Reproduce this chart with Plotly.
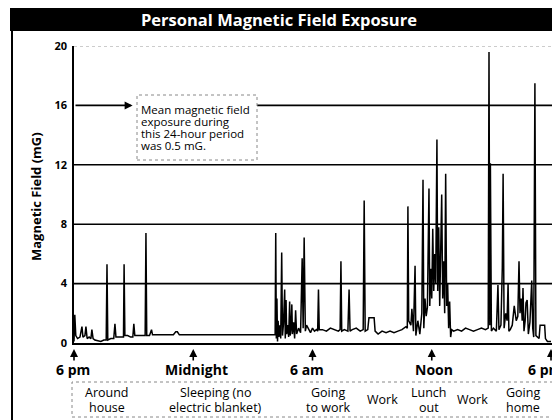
import plotly.graph_objects as go

# ---------------- data ----------------
# hours after 6 pm, and magnetic field in mG
time_h = [
    0.00, 0.04, 0.09, 0.18, 0.30, 0.40, 0.45, 0.55, 0.60, 0.66, 0.76, 0.85, 0.90, 0.96,
    1.05, 1.20, 1.35, 1.50, 1.62, 1.66, 1.70, 1.85, 2.00, 2.06, 2.11, 2.25, 2.40, 2.49,
    2.52, 2.56, 2.70, 2.85, 2.96, 3.01, 3.06, 3.20, 3.40, 3.58, 3.62, 3.66, 3.80, 3.90,
    3.95, 4.50, 5.00, 5.12, 5.20, 5.30, 6.50, 7.50, 8.50, 9.50, 10.12,
    10.15, 10.18, 10.21, 10.24, 10.27, 10.31, 10.35, 10.40, 10.45, 10.49, 10.54, 10.60,
    10.63, 10.67, 10.70, 10.75, 10.80, 10.85, 10.88, 10.92, 10.96, 10.99, 11.05, 11.10,
    11.15, 11.20, 11.30, 11.40, 11.48, 11.53, 11.58, 11.64, 11.70, 11.80, 11.90, 12.00,
    12.10, 12.20, 12.26, 12.30, 12.34, 12.50, 12.70, 12.90, 13.10, 13.30, 13.39, 13.43,
    13.47, 13.60, 13.78, 13.84, 13.89, 14.00, 14.20, 14.40, 14.55, 14.60, 14.65, 14.78,
    14.84, 15.10, 15.15, 15.30, 15.50, 15.70, 15.90, 16.10, 16.30, 16.50, 16.70, 16.77,
    16.80, 16.84, 16.95, 17.00, 17.08, 17.16, 17.20, 17.30, 17.40, 17.50, 17.56, 17.60,
    17.66, 17.72, 17.78, 17.86, 17.90, 17.95, 18.00, 18.05, 18.10, 18.15, 18.20, 18.26,
    18.30, 18.35, 18.40, 18.45, 18.50, 18.55, 18.60, 18.65, 18.70, 18.75, 18.80, 18.85,
    18.90, 18.95, 19.00, 19.10, 19.30, 19.50, 19.70, 19.90, 20.10, 20.30, 20.50, 20.70,
    20.84, 20.88, 20.92, 20.95, 21.00, 21.10, 21.25, 21.33, 21.38, 21.48, 21.55, 21.59,
    21.64, 21.72, 21.79, 21.84, 21.88, 21.95, 22.05, 22.15, 22.25, 22.33, 22.39, 22.44,
    22.50, 22.55, 22.59, 22.64, 22.70, 22.74, 22.80, 22.86, 22.94, 23.03, 23.08, 23.13,
    23.19, 23.24, 23.30, 23.40, 23.45, 23.68, 23.72, 23.82, 23.92, 24.00,
]
field_mG = [
    0.1, 1.9, 0.5, 0.3, 0.4, 1.1, 0.4, 0.5, 1.1, 0.3, 0.4, 0.3, 0.9, 0.3,
    0.2, 0.15, 0.1, 0.2, 0.2, 5.3, 0.2, 0.3, 0.3, 1.3, 0.4, 0.4, 0.4, 0.4,
    5.3, 0.5, 0.5, 0.4, 0.4, 1.3, 0.5, 0.5, 0.5, 0.5, 7.4, 0.5, 0.5, 0.9,
    0.55, 0.55, 0.55, 0.75, 0.75, 0.55, 0.55, 0.55, 0.55, 0.55, 0.55,
    7.4, 0.3, 3.0, 0.1, 1.5, 0.4, 1.2, 0.3, 6.1, 0.5, 1.3, 3.6,
    0.3, 2.9, 0.6, 1.2, 0.4, 2.8, 0.5, 1.0, 2.6, 0.6, 1.4, 0.3,
    2.2, 0.6, 1.0, 0.7, 5.7, 1.0, 7.1, 0.8, 1.2, 0.9, 0.7, 1.0,
    0.8, 0.9, 0.8, 3.6, 0.9, 0.9, 0.8, 1.0, 0.9, 0.8, 0.9, 5.5,
    0.8, 0.9, 0.8, 3.6, 0.8, 0.9, 1.0, 0.8, 0.9, 9.6, 0.8, 0.9,
    1.7, 1.7, 0.8, 0.6, 0.8, 0.7, 0.8, 0.7, 0.8, 0.9, 1.1, 1.0,
    9.2, 1.5, 1.2, 2.3, 0.8, 5.2, 0.5, 1.5, 0.6, 2.0, 11.0, 1.0,
    3.0, 1.8, 2.4, 10.4, 2.5, 5.0, 3.0, 7.7, 3.5, 6.0, 4.0, 13.7,
    3.5, 7.8, 2.5, 6.0, 10.0, 3.0, 5.5, 2.0, 11.4, 2.5, 4.0, 1.0,
    2.8, 0.4, 0.9, 0.8, 0.9, 0.8, 1.0, 0.9, 0.8, 0.9, 1.0, 0.9,
    1.0, 19.6, 1.2, 12.1, 0.8, 1.0, 0.8, 3.9, 0.9, 1.2, 5.1, 11.4,
    1.0, 2.0, 1.5, 4.0, 0.8, 0.9, 1.2, 2.5, 1.5, 1.8, 5.5, 2.0,
    3.0, 1.5, 3.7, 0.8, 1.5, 2.7, 2.9, 0.6, 1.4, 4.2, 1.0, 0.4,
    17.5, 0.5, 0.4, 0.3, 1.2, 1.2, 0.3, 0.1, 0.1, 0.1,
]

y_ticks = [0, 4, 8, 12, 16, 20]
grid_levels = [4, 8, 12]
time_marks = [0, 6, 12, 18, 24]
time_labels = ["6 pm", "Midnight", "6 am", "Noon", "6 pm"]
mean_note = ["Mean magnetic field", "exposure during", "this 24-hour period", "was 0.5 mG."]
activities = [["Around", "house"], ["Sleeping (no", "electric blanket)"], ["Going", "to work"],
              ["Work"], ["Lunch", "out"], ["Work"], ["Going", "home"]]
title_text = "Personal Magnetic Field Exposure"

# ---------------- layout geometry (pixels, reference coordinates) ----------------
# the page body adds an 8 px offset, so the figure is made 8 px smaller
OFF = 8
PLOT_L, PLOT_T, PLOT_R, PLOT_B = 74, 46, 553, 343
PW, PH = PLOT_R - PLOT_L, PLOT_B - PLOT_T
L, T = PLOT_L - OFF, PLOT_T - OFF
R, B = 560 - PLOT_R, 420 - PLOT_B
WIDTH, HEIGHT = L + PW + R, T + PH + B
XMAX = 24.1
FONT = "Open Sans"


def px_x(p):
    return (p - PLOT_L) / PW


def px_y(p):
    return (PLOT_B - p) / PH


fig = go.Figure()
fig.add_trace(go.Scatter(x=time_h, y=field_mG, mode="lines",
                         line=dict(color="black", width=1.5), hoverinfo="skip",
                         showlegend=False))

shapes = []
for g in grid_levels:
    shapes.append(dict(type="line", xref="x", yref="y", x0=0, x1=XMAX, y0=g, y1=g,
                       line=dict(color="black", width=1.6), layer="below"))
# 16 line broken by the note box
shapes.append(dict(type="line", xref="x", yref="y", x0=9.21, x1=XMAX, y0=16, y1=16,
                   line=dict(color="black", width=1.6), layer="below"))
# faint top line at 20
shapes.append(dict(type="line", xref="x", yref="y", x0=0, x1=XMAX, y0=20, y1=20,
                   line=dict(color="#999999", width=1, dash="dot"), layer="below"))
# note box
shapes.append(dict(type="rect", xref="paper", yref="paper",
                   x0=px_x(137), x1=px_x(257), y0=px_y(160), y1=px_y(95),
                   line=dict(color="#888888", width=1, dash="dot")))
# title banner
shapes.append(dict(type="rect", xref="paper", yref="paper",
                   x0=px_x(10), x1=px_x(562), y0=px_y(31), y1=px_y(-2),
                   fillcolor="black", line=dict(width=0)))
# left frame line
shapes.append(dict(type="line", xref="paper", yref="paper",
                   x0=px_x(12), x1=px_x(12), y0=px_y(31), y1=px_y(422),
                   line=dict(color="black", width=2)))
# activity box
shapes.append(dict(type="rect", xref="paper", yref="paper",
                   x0=px_x(72), x1=px_x(556), y0=px_y(417), y1=px_y(382),
                   line=dict(color="#888888", width=1, dash="dot")))

annotations = []
# title
annotations.append(dict(text="<b>" + title_text + "</b>", xref="paper", yref="paper",
                        x=px_x(279), y=px_y(20), showarrow=False,
                        font=dict(family=FONT, size=16.5, color="white"),
                        xanchor="center", yanchor="middle"))
# y axis title
annotations.append(dict(text="<b>Magnetic Field (mG)</b>", xref="paper", yref="paper",
                        x=px_x(36), y=px_y(197), showarrow=False, textangle=-90,
                        font=dict(family=FONT, size=13, color="black"),
                        xanchor="center", yanchor="middle"))
# arrow into the note box
annotations.append(dict(text="", xref="x", yref="y", x=2.95, y=16, ax=0, ay=16,
                        axref="x", ayref="y", showarrow=True, arrowhead=2,
                        arrowsize=1, arrowwidth=1.6, arrowcolor="black"))
# note text
for i, line in enumerate(mean_note):
    annotations.append(dict(text=line, xref="paper", yref="paper",
                            x=px_x(139), y=px_y(109 + 12.3 * i), showarrow=False,
                            font=dict(family=FONT, size=11.5, color="black"),
                            xanchor="left", yanchor="middle"))
# time arrows and labels
label_px = [73, 196, 307, 434, 545]
for hx, lab, lp in zip(time_marks, time_labels, label_px):
    annotations.append(dict(text="", xref="x", yref="paper", x=hx, y=px_y(349),
                            ax=0, ay=13, showarrow=True, arrowhead=2, arrowsize=1,
                            arrowwidth=1.6, arrowcolor="black"))
    annotations.append(dict(text="<b>" + lab + "</b>", xref="paper", yref="paper",
                            x=px_x(lp), y=px_y(369), showarrow=False,
                            font=dict(family=FONT, size=14, color="black"),
                            xanchor="center", yanchor="middle"))
# activity labels
act_px = [107, 215, 328, 382, 429, 472, 523]
for lines, cx in zip(activities, act_px):
    if len(lines) == 1:
        ys = [400]
    else:
        ys = [393, 407.5]
    for ln, yy in zip(lines, ys):
        annotations.append(dict(text=ln, xref="paper", yref="paper",
                                x=px_x(cx), y=px_y(yy), showarrow=False,
                                font=dict(family=FONT, size=12.5, color="black"),
                                xanchor="center", yanchor="middle"))

fig.update_layout(
    width=WIDTH, height=HEIGHT,
    margin=dict(l=L, r=R, t=T, b=B, pad=0),
    paper_bgcolor="white", plot_bgcolor="white",
    showlegend=False,
    xaxis=dict(range=[0, XMAX], showgrid=False, zeroline=False, showticklabels=False,
               ticks="", showline=True, linecolor="black", linewidth=1.6, fixedrange=True),
    yaxis=dict(range=[0, 20], tickvals=y_ticks, showgrid=False, zeroline=False,
               ticks="", showline=True, linecolor="black", linewidth=1.6,
               ticklabelstandoff=3,
               tickfont=dict(family=FONT, size=11, color="black", weight="bold"),
               fixedrange=True),
    shapes=shapes,
    annotations=annotations,
)

fig.write_html("out.html")
